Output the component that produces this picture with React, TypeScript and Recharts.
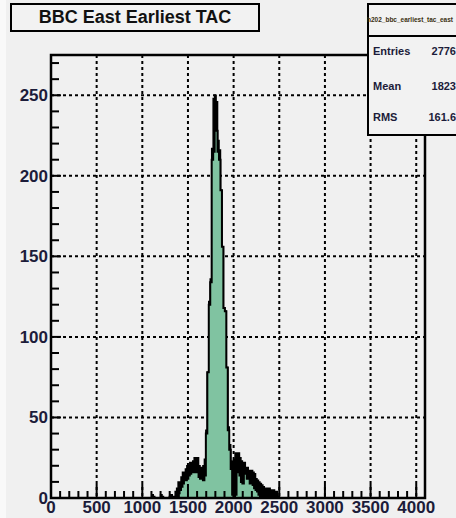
import React from "react";
import {
  ComposedChart,
  Area,
  XAxis,
  YAxis,
  CartesianGrid,
  ReferenceArea,
} from "recharts";

// TAC histogram, 16-channel bins starting at channel 1024
const BIN_START = 1024;
const BIN_WIDTH = 16;

// all hits (black)
const allCounts = [
  0, 0, 0, 0, 0, 2, 1, 0, 0, 0, 0, 2, 1, 0, 0, 0, 0, 1, 2, 0, 1, 4, 6, 10,
  8, 13, 16, 14, 18, 20, 19, 22, 20, 23, 25, 24, 25, 20, 18, 19, 20, 24, 42,
  78, 122, 136, 217, 248, 250, 246, 222, 216, 191, 156, 118, 116, 81, 44, 33,
  23, 22, 24, 28, 27, 28, 25, 23, 22, 22, 19, 19, 17, 17, 17, 16, 15, 12, 11,
  10, 9, 8, 7, 6, 6, 5, 6, 5, 5, 5, 4, 4, 1,
];

// selected hits (green)
const selCounts = [
  0, 0, 0, 0, 0, 0, 0, 0, 0, 0, 0, 0, 0, 0, 0, 0, 0, 0, 0, 0, 0, 0, 0, 3, 5,
  7, 9, 11, 11, 12, 14, 15, 16, 16, 17, 16, 16, 13, 12, 12, 11, 14, 40, 78,
  120, 134, 210, 215, 229, 228, 215, 210, 191, 156, 118, 116, 81, 42, 30, 18,
  2, 1, 2, 16, 17, 14, 10, 9, 15, 15, 12, 14, 9, 9, 8, 6, 5, 4, 2, 1, 0, 0,
  0, 0, 0, 0, 0, 0, 0, 0, 0, 0,
];

const X_MAJOR = [0, 500, 1000, 1500, 2000, 2500, 3000, 3500, 4000];
const Y_MAJOR = [0, 50, 100, 150, 200, 250];

const X_TICKS: number[] = [];
X_MAJOR.forEach((v) => {
  for (let k = 0; k < 5; k++) if (v + k * 100 <= 4000) X_TICKS.push(v + k * 100);
});
const Y_TICKS: number[] = [];
for (let v = 0; v <= 270; v += 10) Y_TICKS.push(v);

const data = allCounts.map((c, i) => ({
  x: BIN_START + i * BIN_WIDTH,
  all: c,
  sel: selCounts[i],
}));
data.push({ x: BIN_START + allCounts.length * BIN_WIDTH, all: 0, sel: 0 });

const FONT = "'Liberation Sans', Arial, sans-serif";
const LABEL_COLOR = "#1c1c3a";

const W = 456;
const H = 518;
const MARGIN = { top: 55, right: 31, bottom: 0, left: 11 };
const X_AXIS_H = 20;
const Y_AXIS_W = 40;
const PLOT_BOTTOM = H - MARGIN.bottom - X_AXIS_H;
const PLOT_LEFT = MARGIN.left + Y_AXIS_W;

const XTick = (props: any) => {
  const { x, payload } = props;
  const y = PLOT_BOTTOM;
  const major = payload.value % 500 === 0;
  return (
    <g>
      <line x1={x} x2={x} y1={y} y2={y - (major ? 14 : 7)} stroke="#000" strokeWidth={2} />
      {major && (
        <text
          x={x}
          y={y + 15}
          textAnchor="middle"
          fontFamily={FONT}
          fontWeight="bold"
          fontSize={17}
          fill={LABEL_COLOR}
        >
          {payload.value}
        </text>
      )}
    </g>
  );
};

const YTick = (props: any) => {
  const { y, payload } = props;
  const x = PLOT_LEFT;
  const major = payload.value % 50 === 0;
  return (
    <g>
      <line x1={x} x2={x + (major ? 10 : 8)} y1={y} y2={y} stroke="#000" strokeWidth={2} />
      {major && (
        <text
          x={x - 3}
          y={y + 6}
          textAnchor="end"
          fontFamily={FONT}
          fontWeight="bold"
          fontSize={17}
          fill={LABEL_COLOR}
        >
          {payload.value}
        </text>
      )}
    </g>
  );
};

const STATS = [
  ["Entries", "2776", 40],
  ["Mean", "1823", 75],
  ["RMS", "161.6", 106],
];

export default function App() {
  return (
    <div
      style={{
        position: "fixed",
        left: 0,
        top: 0,
        width: W,
        height: H,
        background: "#f9f9f9",
        overflow: "hidden",
        fontFamily: FONT,
      }}
    >
      <div
        style={{
          position: "absolute",
          left: 6,
          top: 0,
          width: W - 6,
          height: H,
          background: "#f0f0f0",
        }}
      />
      <div style={{ position: "absolute", left: 0, top: 0 }}>
        <ComposedChart width={W} height={H} data={data} margin={MARGIN}>
          <CartesianGrid
            horizontal
            vertical
            horizontalValues={[50, 100, 150, 200, 250]}
            verticalValues={[500, 1000, 1500, 2000, 2500, 3000, 3500, 4000]}
            stroke="#000"
            strokeWidth={2}
            strokeDasharray="3 3"
          />
          <XAxis
            type="number"
            dataKey="x"
            domain={[0, 4096]}
            ticks={X_TICKS}
            interval={0}
            height={X_AXIS_H}
            axisLine={false}
            tickLine={false}
            tick={<XTick />}
            allowDataOverflow
          />
          <YAxis
            type="number"
            domain={[0, 275]}
            ticks={Y_TICKS}
            interval={0}
            width={Y_AXIS_W}
            axisLine={false}
            tickLine={false}
            tick={<YTick />}
            allowDataOverflow
          />
          <Area
            type="stepAfter"
            dataKey="all"
            stroke="#000"
            strokeWidth={1.5}
            fill="#000"
            fillOpacity={1}
            isAnimationActive={false}
            dot={false}
            activeDot={false}
          />
          <Area
            type="stepAfter"
            dataKey="sel"
            stroke="#000"
            strokeWidth={2}
            fill="#80c3a1"
            fillOpacity={1}
            isAnimationActive={false}
            dot={false}
            activeDot={false}
          />
          <ReferenceArea
            x1={0}
            x2={4096}
            y1={0}
            y2={275}
            fill="none"
            stroke="#000"
            strokeWidth={2.5}
          />
        </ComposedChart>
      </div>

      {/* title box */}
      <div
        style={{
          position: "absolute",
          left: 10,
          top: 3,
          width: 246,
          height: 25,
          border: "2.5px solid #000",
          background: "#f2f2f2",
          textAlign: "center",
          fontWeight: "bold",
          fontSize: 18,
          lineHeight: "25px",
          color: "#111",
        }}
      >
        BBC East Earliest TAC
      </div>

      {/* stats box, runs past the right edge */}
      <div
        style={{
          position: "absolute",
          left: 367,
          top: 3,
          width: 150,
          height: 129,
          border: "2.5px solid #000",
          background: "#f2f2f2",
          color: LABEL_COLOR,
        }}
      >
        <div
          style={{
            height: 30,
            borderBottom: "2.5px solid #000",
            fontSize: 6.5,
            lineHeight: "30px",
            whiteSpace: "nowrap",
            marginLeft: -2,
            fontWeight: "bold",
            color: "#3a3010",
          }}
        >
          h202_bbc_earliest_tac_east
        </div>
        {STATS.map(([label, value, top]) => (
          <div key={label as string}>
            <div
              style={{
                position: "absolute",
                left: 4,
                top: top as number,
                fontSize: 11,
                fontWeight: "bold",
              }}
            >
              {label}
            </div>
            <div
              style={{
                position: "absolute",
                right: 150 - 87,
                top: top as number,
                fontSize: 11,
                fontWeight: "bold",
                textAlign: "right",
              }}
            >
              {value}
            </div>
          </div>
        ))}
      </div>
    </div>
  );
}
